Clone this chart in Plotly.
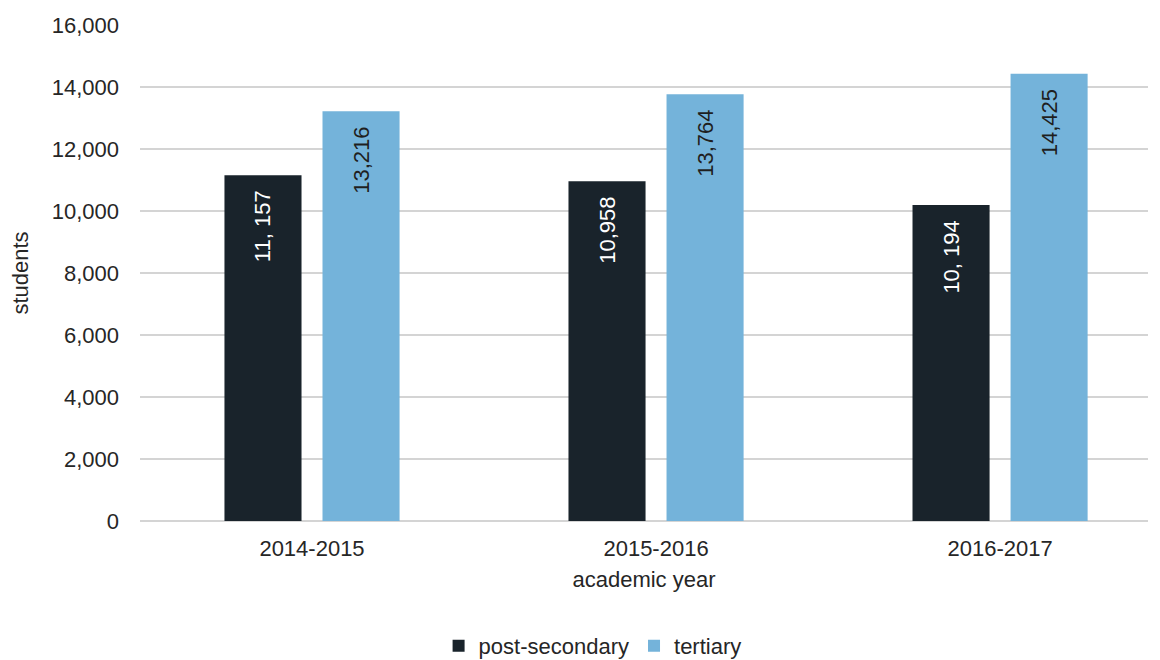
import plotly.graph_objects as go

years = ["2014-2015", "2015-2016", "2016-2017"]
post_secondary = [11157, 10958, 10194]
tertiary = [13216, 13764, 14425]
post_labels = ["11, 157", "10,958", "10, 194"]
tert_labels = ["13,216", "13,764", "14,425"]

font = "Liberation Sans, Arial, sans-serif"
pad = "\u00a0\u00a0"

fig = go.Figure()
fig.add_trace(go.Bar(
    x=years, y=post_secondary, name="post-secondary",
    marker=dict(color="#19232b", line=dict(width=0)),
    text=[t + pad for t in post_labels], textposition="inside", insidetextanchor="end",
    textangle=-90, textfont=dict(color="white", size=22, family=font),
    cliponaxis=False,
))
fig.add_trace(go.Bar(
    x=years, y=tertiary, name="tertiary",
    marker=dict(color="#74b3da", line=dict(width=0)),
    text=[t + pad for t in tert_labels], textposition="inside", insidetextanchor="end",
    textangle=-90, textfont=dict(color="#1f1f1f", size=22, family=font),
    cliponaxis=False,
))

fig.update_layout(
    width=1152, height=652,
    margin=dict(l=132, r=12, t=17, b=139, autoexpand=False),
    paper_bgcolor="white", plot_bgcolor="white",
    font=dict(family=font, size=22, color="#262626"),
    barmode="group", bargap=0.43, bargroupgap=0.214,
    uniformtext=dict(mode=False),
    xaxis=dict(
        range=[-0.5, 2.43], showgrid=False, showline=False, automargin=False,
        ticks="", tickfont=dict(size=22), ticklabelstandoff=12,
        title=dict(text="academic year", font=dict(size=22), standoff=11),
    ),
    yaxis=dict(
        range=[0, 16000], dtick=2000, tickformat=",d", automargin=False,
        showgrid=True, gridcolor="#d4d4d4", gridwidth=1.5,
        zeroline=True, zerolinecolor="#d4d4d4", zerolinewidth=1.5,
        showline=False, ticks="", tickfont=dict(size=22), ticklabelstandoff=20,
        title=dict(text="students", font=dict(size=22), standoff=24),
    ),
    legend=dict(
        orientation="h", x=0.449, xanchor="center",
        yref="container", y=0.0215, yanchor="middle",
        font=dict(size=22), itemwidth=30, tracegroupgap=0,
    ),
    showlegend=True,
)

fig.write_html("out.html")
